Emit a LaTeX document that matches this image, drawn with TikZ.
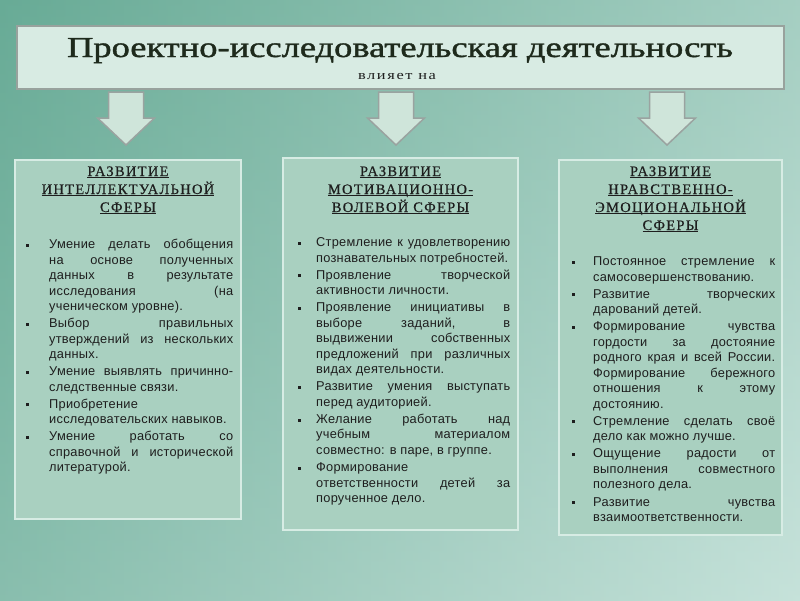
\documentclass[tikz,border=0pt]{standalone}
\usepackage{fontspec}
\usepackage{graphicx}
\setmainfont{Liberation Serif}
\newfontfamily\titlefont[FakeBold=1.2]{Liberation Serif}
\newfontfamily\bodyfont[LetterSpace=2.0]{Liberation Sans}
\newfontfamily\headfont[LetterSpace=9.0, FakeBold=0.5]{Liberation Serif}
\newfontfamily\subfont[LetterSpace=10.0]{Liberation Serif}
\usetikzlibrary{positioning}

\definecolor{bgdark}{HTML}{68AB96}
\definecolor{bglight}{HTML}{C6E2DA}
\definecolor{panel}{HTML}{A9D0C0}
\definecolor{panelrim}{HTML}{D7ECE4}
\definecolor{titlefill}{HTML}{D8EBE3}
\definecolor{titlerim}{HTML}{98A29D}
\definecolor{arrowfill}{HTML}{CFE5DA}
\definecolor{arrowrim}{HTML}{9AA3A0}
\definecolor{ink}{HTML}{1E1E1E}
\definecolor{titleink}{HTML}{1E2A1C}

% bullet lists with hand-set lines
\newlength\txtw
\newlength\bulind
\newcommand\bodysetup[2]{\setlength\bulind{#1}\setlength\txtw{#2}%
  \spaceskip=0pt\xspaceskip=0pt\parskip=0pt}
\newcommand\bulsq{\rule[1.9pt]{3pt}{3pt}}
\newcommand\itemfirst[1]{\par\noindent\makebox[\bulind][l]{\rule{0pt}{10.5pt}\bulsq}\makebox[\txtw][s]{#1}}
\newcommand\itemline[1]{\par\noindent\hspace*{\bulind}\makebox[\txtw][s]{#1}}
\newcommand\itemlast[1]{\par\noindent\hspace*{\bulind}\makebox[\txtw][l]{#1}\par\vspace{1.6pt}}
\newcommand\headrule[1]{\setbox0\hbox{#1}\rlap{\rule[-2.2pt]{\wd0}{0.9pt}}\box0}

\tikzset{
  panelbox/.style={draw=panelrim, fill=panel, line width=2pt, inner sep=0pt},
  titlebox/.style={draw=titlerim, fill=titlefill, line width=1.5pt, inner sep=0pt},
  headtext/.style={align=center, inner sep=0pt, text=ink,
    font=\headfont\fontsize{14.5}{18}\selectfont},
  bodytext/.style={anchor=north west, inner sep=0pt, text width=#1, align=justify, text=ink,
    font=\bodyfont\fontsize{12.8}{15.5}\selectfont},
  downarr/.pic={
    \draw[arrowrim, fill=arrowfill, line width=1.5pt]
      (-17.5,0) -- (17.5,0) -- (17.5,26) -- (28.5,26) -- (0,53)
      -- (-28.5,26) -- (-17.5,26) -- cycle;
  }
}

\begin{document}
\begin{tikzpicture}[x=1pt, y=-1pt]
\useasboundingbox (0,0) rectangle (800,600);

% Background
\shade[left color=bgdark, right color=bglight] (0,0) rectangle (800,600);
\shade[top color=bgdark, bottom color=bglight, opacity=0.35] (0,0) rectangle (800,600);

% Title
\node[titlebox, minimum width=767pt, minimum height=63pt] (title) at (400.5,57.5) {};
\node[anchor=base, inner sep=0pt, text=titleink] (titletext) at (400,57)
  {\resizebox{666pt}{\height}{\titlefont\fontsize{29}{34}\selectfont Проектно-исследовательская деятельность}};
\node[anchor=base, inner sep=0pt, text=ink] (subtitle) at (397,79)
  {\resizebox{78pt}{\height}{\subfont\fontsize{13}{15}\selectfont влияет на}};

% Arrows
\pic (arrL) at (126,92) {downarr};
\pic (arrM) at (396,92) {downarr};
\pic (arrR) at (667,92) {downarr};

% Left: intellectual
\node[panelbox, minimum width=226pt, minimum height=359pt] (boxL) at (128,339.5) {};
\node[headtext, below=7.2pt of boxL.north] (headL)
  {\headrule{РАЗВИТИЕ}\\\headrule{ИНТЕЛЛЕКТУАЛЬНОЙ}\\\headrule{СФЕРЫ}};
\node[bodytext=207pt] (bodyL) at (26,232.8) {\bodysetup{23pt}{184pt}%
\itemfirst{Умение делать обобщения}
\itemline{на основе полученных}
\itemline{данных в результате}
\itemline{исследования (на}
\itemlast{ученическом уровне).}
\itemfirst{Выбор правильных}
\itemline{утверждений из нескольких}
\itemlast{данных.}
\itemfirst{Умение выявлять причинно-}
\itemlast{следственные связи.}
\itemfirst{Приобретение}
\itemlast{исследовательских навыков.}
\itemfirst{Умение работать со}
\itemline{справочной и исторической}
\itemlast{литературой.}};

% Middle: motivation
\node[panelbox, minimum width=235pt, minimum height=372pt] (boxM) at (400.5,344) {};
\node[headtext, below=9.2pt of boxM.north] (headM)
  {\headrule{РАЗВИТИЕ}\\\headrule{МОТИВАЦИОННО-}\\\headrule{ВОЛЕВОЙ СФЕРЫ}};
\node[bodytext=212pt] (bodyM) at (298,230.8) {\bodysetup{18pt}{194pt}%
\itemfirst{Стремление к удовлетворению}
\itemlast{познавательных потребностей.}
\itemfirst{Проявление творческой}
\itemlast{активности личности.}
\itemfirst{Проявление инициативы в}
\itemline{выборе заданий, в}
\itemline{выдвижении собственных}
\itemline{предложений при различных}
\itemlast{видах деятельности.}
\itemfirst{Развитие умения выступать}
\itemlast{перед аудиторией.}
\itemfirst{Желание работать над}
\itemline{учебным материалом}
\itemlast{совместно: в паре, в группе.}
\itemfirst{Формирование}
\itemline{ответственности детей за}
\itemlast{порученное дело.}};

% Right: moral and emotional
\node[panelbox, minimum width=223pt, minimum height=375pt] (boxR) at (670.5,347.5) {};
\node[headtext, below=7.2pt of boxR.north] (headR)
  {\headrule{РАЗВИТИЕ}\\\headrule{НРАВСТВЕННО-}\\\headrule{ЭМОЦИОНАЛЬНОЙ}\\\headrule{СФЕРЫ}};
\node[bodytext=203pt] (bodyR) at (572,249.8) {\bodysetup{21pt}{182pt}%
\itemfirst{Постоянное стремление к}
\itemlast{самосовершенствованию.}
\itemfirst{Развитие творческих}
\itemlast{дарований детей.}
\itemfirst{Формирование чувства}
\itemline{гордости за достояние}
\itemline{родного края и всей России.}
\itemline{Формирование бережного}
\itemline{отношения к этому}
\itemlast{достоянию.}
\itemfirst{Стремление сделать своё}
\itemlast{дело как можно лучше.}
\itemfirst{Ощущение радости от}
\itemline{выполнения совместного}
\itemlast{полезного дела.}
\itemfirst{Развитие чувства}
\itemlast{взаимоответственности.}};

\end{tikzpicture}
\end{document}
